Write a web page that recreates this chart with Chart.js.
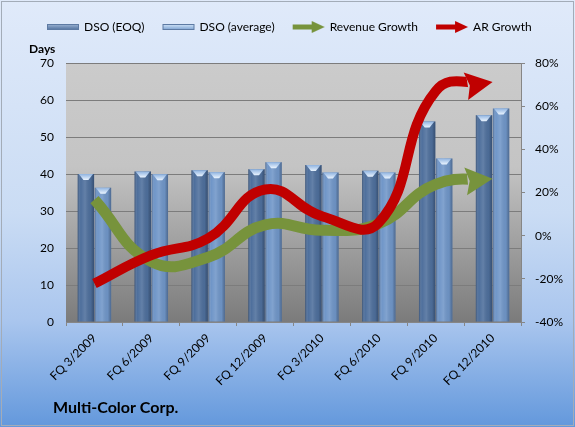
<!DOCTYPE html>
<html>
<head>
<meta charset="utf-8">
<title>Multi-Color Corp. DSO</title>
<script src="https://cdn.jsdelivr.net/npm/chart.js@4.4.1/dist/chart.umd.min.js"></script>
<style>
  html, body { margin: 0; padding: 0; background: #ffffff; }
  #wrap { width: 575px; height: 427px; }
</style>
</head>
<body>
<div id="wrap"><canvas id="dso-chart" width="575" height="427"></canvas></div>
<script>
// Data
const quarters = ['FQ 3/2009', 'FQ 6/2009', 'FQ 9/2009', 'FQ 12/2009',
                  'FQ 3/2010', 'FQ 6/2010', 'FQ 9/2010', 'FQ 12/2010'];
const dsoEoq = [40.0, 40.7, 41.0, 41.3, 42.4, 40.9, 54.2, 55.9];
const dsoAvg = [36.3, 39.9, 40.5, 43.2, 40.4, 40.4, 44.2, 57.7];
const revenueGrowth = [16.7, -12.0, -10.0, 5.0, 2.5, 5.6, 23.8, 26.4];  // %
const arGrowth = [-22.2, -9.0, -1.2, 21.4, 9.0, 6.0, 67.0, 71.2];      // %
const dayTicks = [0, 10, 20, 30, 40, 50, 60, 70];
const pctTicks = [-40, -20, 0, 20, 40, 60, 80];

const FONT = 'Lato';

// Legend swatches
function barSwatch(light, dark) {
    const c = document.createElement('canvas');
    c.width = 34; c.height = 8;
    const g = c.getContext('2d');
    const grad = g.createLinearGradient(0, 1, 0, 7);
    grad.addColorStop(0, light);
    grad.addColorStop(1, dark);
    g.fillStyle = grad;
    g.fillRect(1, 1, 32, 6);
    g.strokeStyle = '#5d7aa3';
    g.lineWidth = 1;
    g.strokeRect(1.5, 1.5, 31, 5);
    return c;
}

function arrowSwatch(color) {
    const c = document.createElement('canvas');
    c.width = 34; c.height = 14;
    const g = c.getContext('2d');
    g.fillStyle = color;
    g.fillRect(1, 4.5, 21, 5);
    g.beginPath();
    g.moveTo(20, 1);
    g.lineTo(33, 7);
    g.lineTo(20, 13);
    g.closePath();
    g.fill();
    return c;
}

const swatches = [
    barSwatch('#9fb6d6', '#4e6f9c'),
    barSwatch('#d4e6fa', '#7aa0d0'),
    arrowSwatch('#77933c'),
    arrowSwatch('#c00000')
];

// Backgrounds: blue chart area, grey plot area
const backgrounds = {
    id: 'backgrounds',
    beforeDraw(chart) {
        const {ctx, width, height, chartArea: a} = chart;
        ctx.save();
        let grad = ctx.createLinearGradient(0, 0, 0, height);
        grad.addColorStop(0, '#e0eafa');
        grad.addColorStop(0.5, '#cadcf4');
        grad.addColorStop(0.75, '#aac6ee');
        grad.addColorStop(1, '#6398dc');
        ctx.fillStyle = grad;
        ctx.fillRect(0, 0, width, height);
        ctx.strokeStyle = '#a3acb8';
        ctx.lineWidth = 1;
        ctx.strokeRect(1.5, 1.5, width - 3, height - 3);

        grad = ctx.createLinearGradient(0, a.top, 0, a.bottom);
        grad.addColorStop(0, '#cbcbcb');
        grad.addColorStop(0.4, '#c4c4c4');
        grad.addColorStop(1, '#7b7b7b');
        ctx.fillStyle = grad;
        ctx.fillRect(a.left, a.top, a.right - a.left, a.bottom - a.top);
        ctx.restore();
    }
};

// Cylinder-ish shading on top of each bar
const barShading = {
    id: 'barShading',
    afterDatasetDraw(chart, args) {
        if (args.meta.type !== 'bar') return;
        const ctx = chart.ctx;
        ctx.save();
        args.meta.data.forEach(el => {
            const {x, y, base, width} = el.getProps(['x', 'y', 'base', 'width'], true);
            const left = x - width / 2;
            const grad = ctx.createLinearGradient(left, 0, left + width, 0);
            grad.addColorStop(0, 'rgba(15,25,45,0.35)');
            grad.addColorStop(0.18, 'rgba(255,255,255,0.0)');
            grad.addColorStop(0.45, 'rgba(255,255,255,0.12)');
            grad.addColorStop(0.8, 'rgba(0,0,0,0.04)');
            grad.addColorStop(1, 'rgba(15,25,45,0.35)');
            ctx.fillStyle = grad;
            ctx.fillRect(left, y, width, base - y);

            const bevel = ctx.createLinearGradient(0, y, 0, y + 6);
            bevel.addColorStop(0, '#8fb3e0');
            bevel.addColorStop(1, '#eaf4ff');
            ctx.fillStyle = bevel;
            ctx.beginPath();
            ctx.moveTo(left + 1, y);
            ctx.lineTo(left + width - 1, y);
            ctx.lineTo(x + width * 0.15, y + 6);
            ctx.lineTo(x - width * 0.15, y + 6);
            ctx.closePath();
            ctx.fill();
        });
        ctx.restore();
    }
};

// Arrowheads at the end of the growth lines
const HEAD_LEN = 27, HEAD_HALF = 14;

function arrowGeom(meta) {
    const pts = meta.data;
    const tip = pts[pts.length - 1];
    const prev = pts[pts.length - 2];
    let dx = tip.x - (tip.cp1x ?? prev.x);
    let dy = tip.y - (tip.cp1y ?? prev.y);
    const len = Math.hypot(dx, dy) || 1;
    dx /= len; dy /= len;
    return {x: tip.x, y: tip.y, dx, dy, nx: -dy, ny: dx};
}

const arrowHeads = {
    id: 'arrowHeads',
    beforeDatasetDraw(chart, args) {
        if (args.meta.type !== 'line') return;
        const ctx = chart.ctx;
        const a = arrowGeom(args.meta);
        const bx = a.x - a.dx * (HEAD_LEN - 2), by = a.y - a.dy * (HEAD_LEN - 2);
        const fx = a.x + a.dx * 16, fy = a.y + a.dy * 16;
        const w = HEAD_HALF + 4;
        ctx.save();
        ctx.beginPath();
        ctx.rect(0, 0, chart.width, chart.height);
        ctx.moveTo(bx + a.nx * w, by + a.ny * w);
        ctx.lineTo(fx + a.nx * w, fy + a.ny * w);
        ctx.lineTo(fx - a.nx * w, fy - a.ny * w);
        ctx.lineTo(bx - a.nx * w, by - a.ny * w);
        ctx.closePath();
        ctx.clip('evenodd');
    },
    afterDatasetDraw(chart, args) {
        if (args.meta.type !== 'line') return;
        const ctx = chart.ctx;
        ctx.restore();
        const a = arrowGeom(args.meta);
        const bx = a.x - a.dx * HEAD_LEN, by = a.y - a.dy * HEAD_LEN;
        ctx.save();
        ctx.fillStyle = chart.data.datasets[args.index].borderColor;
        ctx.beginPath();
        ctx.moveTo(a.x, a.y);
        ctx.lineTo(bx + a.nx * HEAD_HALF, by + a.ny * HEAD_HALF);
        ctx.lineTo(bx + a.dx * 4, by + a.dy * 4);
        ctx.lineTo(bx - a.nx * HEAD_HALF, by - a.ny * HEAD_HALF);
        ctx.closePath();
        ctx.fill();
        ctx.restore();
    }
};

// Company name at the bottom left
const companyName = {
    id: 'companyName',
    afterDraw(chart) {
        const ctx = chart.ctx;
        ctx.save();
        ctx.font = 'bold 16px ' + FONT;
        ctx.fillStyle = '#000';
        ctx.textBaseline = 'middle';
        ctx.fillText('Multi-Color Corp.', 53, 408);
        ctx.restore();
    }
};

const chart = new Chart(document.getElementById('dso-chart').getContext('2d'), {
    data: {
        labels: quarters,
        datasets: [{
            type: 'bar',
            label: 'DSO (EOQ)',
            data: dsoEoq,
            backgroundColor: '#4e6f9c',
            yAxisID: 'y',
            order: 3,
            categoryPercentage: 0.6,
            barPercentage: 0.96
        }, {
            type: 'bar',
            label: 'DSO (average)',
            data: dsoAvg,
            backgroundColor: '#7096c8',
            yAxisID: 'y',
            order: 4,
            categoryPercentage: 0.6,
            barPercentage: 0.96
        }, {
            type: 'line',
            label: 'Revenue Growth',
            data: revenueGrowth,
            borderColor: '#77933c',
            borderWidth: 11,
            borderCapStyle: 'butt',
            tension: 0.45,
            pointRadius: 0,
            pointHoverRadius: 0,
            yAxisID: 'y1',
            order: 2
        }, {
            type: 'line',
            label: 'AR Growth',
            data: arGrowth,
            borderColor: '#c00000',
            borderWidth: 10,
            borderCapStyle: 'butt',
            tension: 0.45,
            pointRadius: 0,
            pointHoverRadius: 0,
            yAxisID: 'y1',
            order: 1
        }]
    },
    options: {
        responsive: false,
        animation: false,
        layout: {
            padding: {top: 2, left: 29, right: 0, bottom: 0}
        },
        plugins: {
            tooltip: {enabled: false},
            legend: {
                position: 'top',
                align: 'start',
                weight: 1000,
                labels: {
                    usePointStyle: true,
                    pointStyleWidth: 30,
                    padding: 19,
                    color: '#000',
                    font: {family: FONT, size: 12},
                    generateLabels: (c) => c.data.datasets.map((ds, i) => ({
                        text: ds.label,
                        pointStyle: swatches[i],
                        datasetIndex: i,
                        hidden: false,
                        lineWidth: 0,
                        fillStyle: 'transparent',
                        strokeStyle: 'transparent',
                        fontColor: '#000'
                    }))
                }
            },
            title: {
                display: true,
                text: 'Days',
                position: 'top',
                align: 'start',
                weight: 500,
                color: '#000',
                font: {family: FONT, size: 12, weight: 'bold', lineHeight: 1},
                padding: {top: 0, bottom: 8}
            }
        },
        scales: {
            x: {
                offset: true,
                grid: {
                    offset: true,
                    drawOnChartArea: false,
                    tickLength: 4,
                    color: '#868686'
                },
                border: {color: '#868686'},
                ticks: {
                    maxRotation: 45,
                    minRotation: 45,
                    padding: 5,
                    color: '#000',
                    font: {family: FONT, size: 12}
                },
                afterFit: (s) => { s.height = 105; }
            },
            y: {
                position: 'left',
                min: 0,
                max: 70,
                afterBuildTicks: (s) => { s.ticks = dayTicks.map(v => ({value: v})); },
                grid: {color: '#7c7c7c', drawTicks: false},
                border: {display: false},
                ticks: {
                    padding: 12,
                    color: '#000',
                    font: {family: FONT, size: 12}
                },
                afterFit: (s) => { s.width = 37; }
            },
            y1: {
                position: 'right',
                min: -40,
                max: 80,
                afterBuildTicks: (s) => { s.ticks = pctTicks.map(v => ({value: v})); },
                grid: {drawOnChartArea: false, tickLength: 4, color: '#868686'},
                border: {color: '#868686'},
                ticks: {
                    padding: 10,
                    color: '#000',
                    font: {family: FONT, size: 12},
                    callback: (v) => v + '%'
                },
                afterFit: (s) => { s.width = 54; }
            }
        }
    },
    plugins: [backgrounds, barShading, arrowHeads, companyName]
});
</script>
</body>
</html>
